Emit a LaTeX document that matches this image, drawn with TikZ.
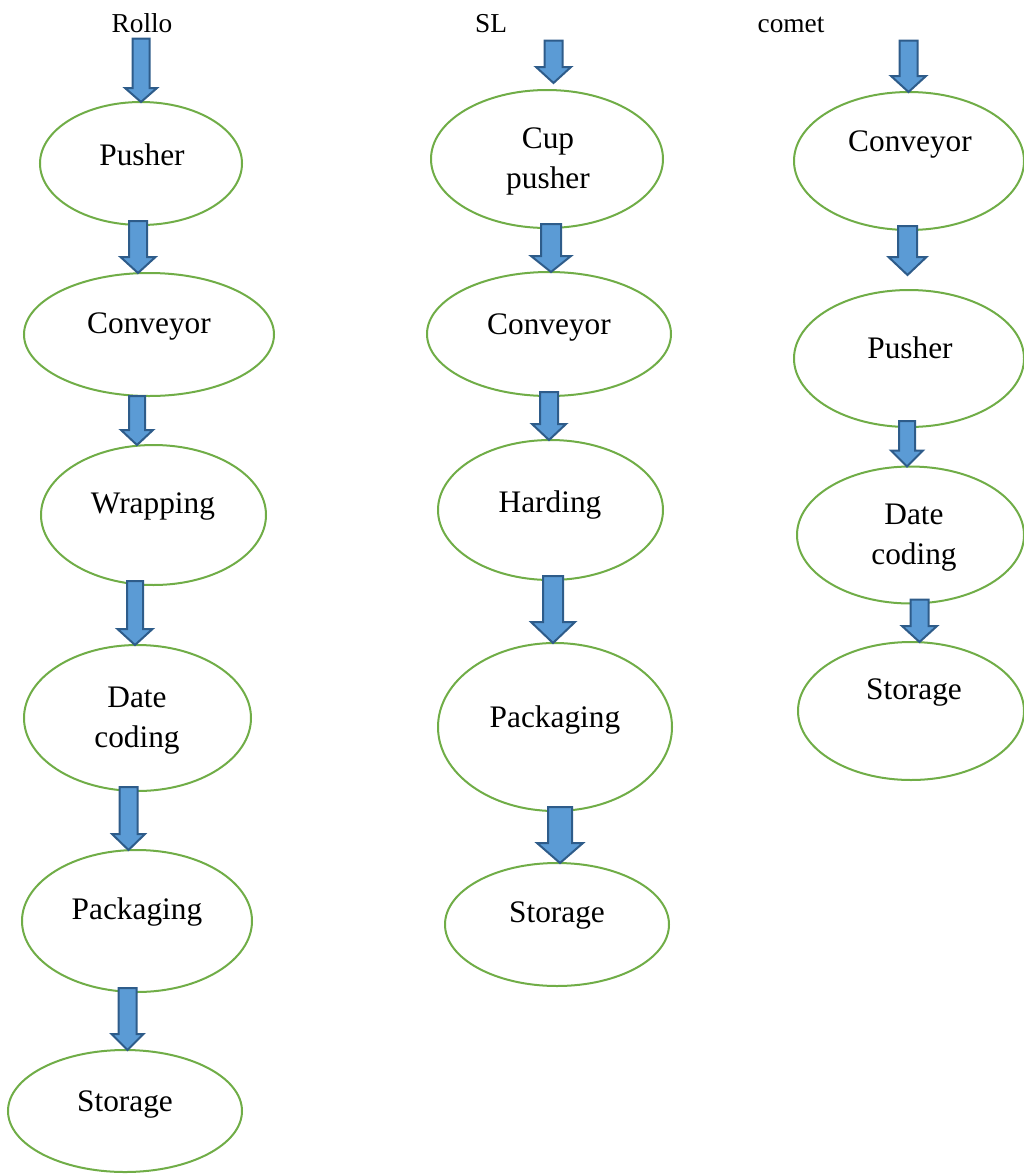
\documentclass[tikz,border=0pt]{standalone}
\usepackage{fontspec}
\setmainfont{Liberation Serif}
\usetikzlibrary{calc}
\usetikzlibrary{shapes.geometric}

\definecolor{ovalgreen}{HTML}{70AD47}
\definecolor{arrowfill}{HTML}{5B9BD5}
\definecolor{arrowline}{HTML}{2E5C8A}

\tikzset{
  stage/.style={ellipse,draw=ovalgreen,line width=1.5pt,fill=white,inner sep=0pt,outer sep=0pt},
  word/.style={font=\fontsize{23.5}{30}\selectfont,inner sep=0pt,anchor=base},
  lines/.style={word,align=center,anchor=center},
  title/.style={font=\fontsize{20.5}{24}\selectfont,inner sep=0pt,anchor=base},
  flow/.style={fill=arrowfill,draw=arrowline,line width=1.5pt,line join=miter}
}

% block arrow: x, from, to, half shaft, half head, head length, overlap, gap (px)
\newcommand{\flow}[8]{%
  \path[flow] let \p1=(#1,0 |- #2.south), \p2=(#1,0 |- #3.north),
    \n1={#4*0.75}, \n2={#5*0.75}, \n3={(#8+#6)*0.75}, \n4={#7*0.75}, \n5={#8*0.75} in
    (\x1-\n1 pt,\y1+\n4 pt) -- (\x1+\n1 pt,\y1+\n4 pt) -- (\x1+\n1 pt,\y2+\n3 pt)
    -- (\x1+\n2 pt,\y2+\n3 pt) -- (\x1,\y2+\n5 pt) -- (\x1-\n2 pt,\y2+\n3 pt)
    -- (\x1-\n1 pt,\y2+\n3 pt) -- cycle;}

\begin{document}
\begin{tikzpicture}[x=0.75pt,y=-0.75pt]
    \useasboundingbox (0,0) rectangle (1024,1174);
    % 1) Rollo
    \node[title] (rTitle) at (142,32) {Rollo};
    \node[stage,minimum width=151.5pt,minimum height=92.25pt] (rPush) at (141,163.5) {};
    \node[stage,minimum width=187.5pt,minimum height=92.25pt] (rConv) at (149,334.5) {};
    \node[stage,minimum width=168.75pt,minimum height=105pt] (rWrap) at (153.5,515) {};
    \node[stage,minimum width=170.25pt,minimum height=109.5pt] (rDate) at (137.5,718) {};
    \node[stage,minimum width=172.5pt,minimum height=106.5pt] (rPack) at (137,921) {};
    \node[stage,minimum width=175.5pt,minimum height=91.5pt] (rStor) at (125,1111) {};
    \flow{141}{rTitle}{rPush}{8.5}{16}{14}{-6}{0}
    \flow{138}{rPush}{rConv}{9}{17.5}{16}{4}{0}
    \flow{137}{rConv}{rWrap}{8}{16}{15}{0}{0}
    \flow{135}{rWrap}{rDate}{8}{17.5}{16}{4}{0}
    \flow{128.5}{rDate}{rPack}{9}{16.5}{16}{4}{0}
    \flow{127.5}{rPack}{rStor}{9}{16}{16}{4}{0}
    \node[word] (rPushT) at (142,165) {Pusher};
    \node[word] (rConvT) at (149,333) {Conveyor};
    \node[word] (rWrapT) at (153,513) {Wrapping};
    \node[lines] (rDateT) at (137,721) {Date\\coding};
    \node[word] (rPackT) at (137,919) {Packaging};
    \node[word] (rStorT) at (125,1111) {Storage};
    % 2) SL
    \node[title] (sTitle) at (491,32) {SL};
    \node[stage,minimum width=174pt,minimum height=103.5pt] (sCup) at (547,159) {};
    \node[stage,minimum width=183pt,minimum height=93pt] (sConv) at (549,334) {};
    \node[stage,minimum width=168.75pt,minimum height=105pt] (sHard) at (550.5,510) {};
    \node[stage,minimum width=175.5pt,minimum height=126pt] (sPack) at (555,727) {};
    \node[stage,minimum width=168pt,minimum height=92.25pt] (sStor) at (557,924.5) {};
    \flow{553.5}{sTitle}{sCup}{9}{17.5}{16}{-8}{7}
    \flow{551}{sCup}{sConv}{10}{20}{16}{4}{0}
    \flow{549}{sConv}{sHard}{9}{17}{16}{4}{0}
    \flow{553}{sHard}{sPack}{10}{22}{21}{4}{0}
    \flow{560}{sPack}{sStor}{12}{23}{20}{4}{0}
    \node[lines] (sCupT) at (548,161) {Cup\\pusher};
    \node[word] (sConvT) at (549,334) {Conveyor};
    \node[word] (sHardT) at (550,512) {Harding};
    \node[word] (sPackT) at (555,727) {Packaging};
    \node[word] (sStorT) at (557,922) {Storage};
    % 3) comet
    \node[title] (cTitle) at (791,32) {comet};
    \node[stage,minimum width=172.5pt,minimum height=103.5pt] (cConv) at (909,161) {};
    \node[stage,minimum width=172.5pt,minimum height=102.75pt] (cPush) at (909,358.5) {};
    \node[stage,minimum width=170.25pt,minimum height=102.75pt] (cDate) at (910.5,535) {};
    \node[stage,minimum width=169.5pt,minimum height=103.5pt] (cStor) at (911,711) {};
    \flow{908.5}{cTitle}{cConv}{9}{17.5}{16}{-8}{0}
    \flow{907.5}{cConv}{cPush}{9.5}{19}{18}{4}{15}
    \flow{907}{cPush}{cDate}{8}{16}{16}{6}{0}
    \flow{919.5}{cDate}{cStor}{9}{17.5}{16}{4}{0}
    \node[word] (cConvT) at (910,151) {Conveyor};
    \node[word] (cPushT) at (910,358) {Pusher};
    \node[lines] (cDateT) at (914,537.5) {Date\\coding};
    \node[word] (cStorT) at (914,699) {Storage};
  \end{tikzpicture}
\end{document}
